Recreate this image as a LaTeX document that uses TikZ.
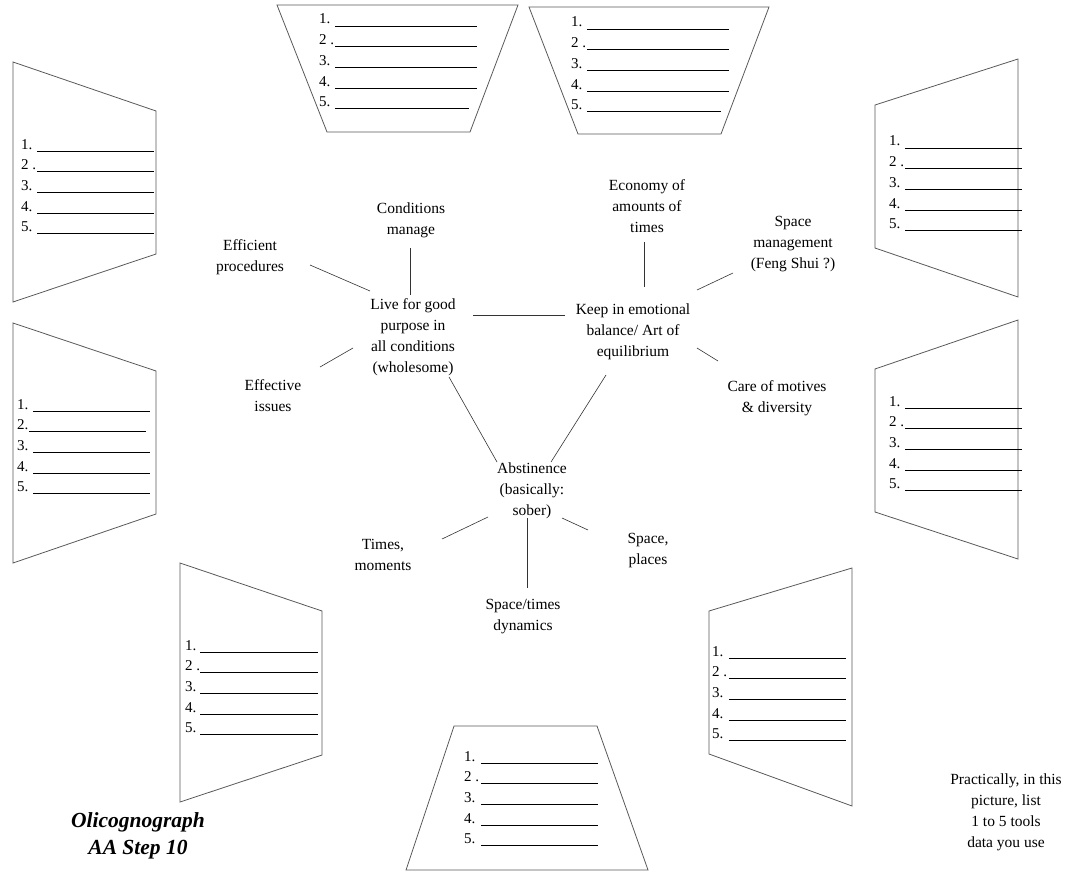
\documentclass[tikz,border=0pt]{standalone}
\usepackage{fontspec}
\setmainfont{Liberation Serif}
\tikzset{
  frame/.style={draw=black!65, line width=0.8pt},
  answer/.style={draw=black, line width=0.9pt},
  link/.style={draw=black!80, line width=0.6pt},
  idea/.style={align=center, inner sep=0pt, font=\fontsize{15.5}{21}\selectfont},
  num/.style={anchor=base west, inner sep=0pt, font=\fontsize{15}{21}\selectfont},
  heading/.style={align=center, inner sep=0pt, font=\fontsize{21.5}{27}\selectfont\bfseries\itshape},
}
% five numbered lines: name, x of the numbers, y of line 1, {number/start/end,...}
\newcommand\toollist[4]{%
  \foreach \lab/\xa/\xb [count=\i] in {#4}{
    \node[num] (#1-\i) at ({#2},{#3+20.7*(\i-1)-2}) {\lab};
    \draw[answer] ({\xa},{#3+20.7*(\i-1)}) -- ({\xb},{#3+20.7*(\i-1)});
  }}

\begin{document}
\begin{tikzpicture}[x=1pt,y=-1pt]
 \useasboundingbox (0,0) rectangle (1070,880);

 % boxes around the picture
 \draw[frame] (277,5) -- (518,5) -- (470,132) -- (327,132) -- cycle;
 \toollist{tl}{319}{26}{1./335/477,{2 .}/335/477,3./335/477,4./335/477,5./335/469}
 \draw[frame] (529,7) -- (769,7) -- (721,134) -- (578,134) -- cycle;
 \toollist{tr}{571}{29}{1./587/729,{2 .}/587/729,3./587/729,4./587/729,5./587/721}
 \draw[frame] (13,62) -- (156,111) -- (156,254) -- (13,302) -- cycle;
 \toollist{lu}{21}{151}{1./37/154,{2 .}/37/154,3./37/154,4./37/154,5./37/154}
 \draw[frame] (1018,59) -- (1018,297) -- (875,248) -- (875,105) -- cycle;
 \toollist{ru}{889}{148}{1./905/1022,{2 .}/905/1022,3./905/1022,4./905/1022,5./905/1022}
 \draw[frame] (13,323) -- (156,371) -- (156,514) -- (13,563) -- cycle;
 \toollist{lm}{17}{411}{1./33/150,2./29/146,3./33/150,4./33/150,5./33/150}
 \draw[frame] (1018,320) -- (1018,559) -- (875,512) -- (875,369) -- cycle;
 \toollist{rm}{889}{408}{1./905/1022,{2 .}/905/1022,3./905/1022,4./905/1022,5./905/1022}
 \draw[frame] (180,563) -- (322,611) -- (322,755) -- (180,802) -- cycle;
 \toollist{bl}{185}{652}{1./200/318,{2 .}/200/318,3./200/318,4./200/318,5./200/318}
 \draw[frame] (852,568) -- (852,806) -- (709,754) -- (709,611) -- cycle;
 \toollist{br}{712}{658}{1./729/846,{2 .}/729/846,3./729/846,4./729/846,5./729/846}
 \draw[frame] (454,726) -- (597,726) -- (648,870) -- (406,870) -- cycle;
 \toollist{bt}{464}{763}{1./481/598,{2 .}/481/598,3./481/598,4./481/598,5./481/598}

 % the three centres
 \node[idea] (live) at (413,337) {Live for good\\purpose in\\all conditions\\(wholesome)};
 \node[idea] (keep) at (633,332) {Keep in emotional\\balance/ Art of\\equilibrium};
 \node[idea] (abst) at (532,491) {Abstinence\\(basically:\\sober)};

 % their branches
 \node[idea] (cond) at (411,220.5) {Conditions\\manage};
 \node[idea] (eff) at (250,257) {Efficient\\procedures};
 \node[idea] (issues) at (273,396) {Effective\\issues};
 \node[idea] (econ) at (647,206) {Economy of\\amounts of\\times};
 \node[idea] (spm) at (793,244) {Space\\management\\(Feng Shui ?)};
 \node[idea] (care) at (777,398) {Care of motives\\\& diversity};
 \node[idea] (times) at (383,555) {Times,\\moments};
 \node[idea] (dyn) at (523,617) {Space/times\\dynamics};
 \node[idea] (places) at (648,551) {Space,\\places};

 \node[idea] (note) at (1006,812) {Practically, in this\\picture, list\\1 to 5 tools\\data you use};
 \node[heading] (name) at (138,836) {Olicognograph\\AA Step 10};

 \draw[link] ([shift={(-1,27.5)}]cond.center) -- ([shift={(-3,-42)}]live.center);
 \draw[link] ([shift={(60,8)}]eff.center) -- ([shift={(-43,-46)}]live.center);
 \draw[link] ([shift={(47,-29)}]issues.center) -- ([shift={(-60,11)}]live.center);
 \draw[link] ([shift={(60,-22)}]live.center) -- ([shift={(-68,-17)}]keep.center);
 \draw[link] ([shift={(36,40)}]live.center) -- ([shift={(-35,-29)}]abst.center);
 \draw[link] ([shift={(-27,43)}]keep.center) -- ([shift={(19,-29)}]abst.center);
 \draw[link] ([shift={(-3,36)}]econ.center) -- ([shift={(11,-45)}]keep.center);
 \draw[link] ([shift={(-60,29)}]spm.center) -- ([shift={(64,-42)}]keep.center);
 \draw[link] ([shift={(64,16)}]keep.center) -- ([shift={(-59,-37)}]care.center);
 \draw[link] ([shift={(-44,26)}]abst.center) -- ([shift={(59,-16)}]times.center);
 \draw[link] ([shift={(-5,27)}]abst.center) -- ([shift={(4,-29)}]dyn.center);
 \draw[link] ([shift={(30,27)}]abst.center) -- ([shift={(-60,-21)}]places.center);
\end{tikzpicture}
\end{document}
